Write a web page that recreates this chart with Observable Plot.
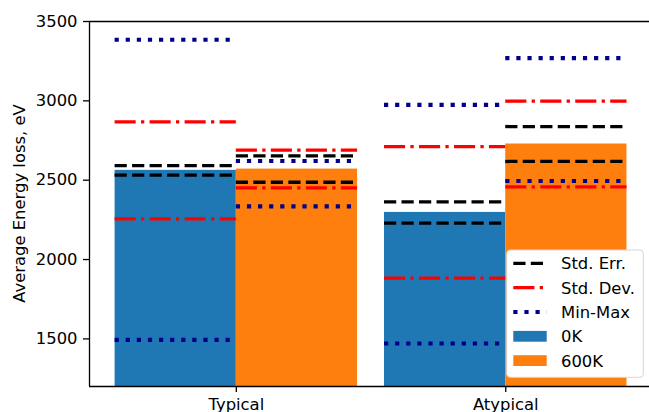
<!DOCTYPE html>
<html>
<head>
<meta charset="utf-8">
<script src="https://cdn.jsdelivr.net/npm/d3@7"></script>
<script src="https://cdn.jsdelivr.net/npm/@observablehq/plot@0.6"></script>
<style>
  html, body { margin: 0; padding: 0; background: #fff; }
  #chart { position: relative; width: 649px; height: 412px; overflow: hidden; }
</style>
</head>
<body>
<div id="chart"></div>
<script>
// Average energy loss per case, with error bands for each temperature
const categories = ["Typical", "Atypical"];
const temperatures = ["0K", "600K"];
const mean0K = [2562, 2297];
const mean600K = [2570, 2728];
const stdErr0K = [30, 67];
const stdErr600K = [83, 110];
const stdDev0K = [306, 414];
const stdDev600K = [119, 270];
const min0K = [1494, 1471];
const min600K = [2335, 2495];
const max0K = [3385, 2974];
const max600K = [2621, 3269];
const yTicks = [1500, 2000, 2500, 3000, 3500];
const lineLabels = ["Std. Err.", "Std. Dev.", "Min-Max"];
const yLabel = "Average Energy loss, eV";

const barColors = ["#1f77b4", "#ff7f0e"];
const barWidth = 0.45;
const xDomain = [-0.545, 1.5336];
const yDomain = [1200, 3500];
const font = "DejaVu Sans";
const fontSize = 16.4;

// one row per bar
const series = [
  {mean: mean0K, se: stdErr0K, sd: stdDev0K, min: min0K, max: max0K},
  {mean: mean600K, se: stdErr600K, sd: stdDev600K, min: min600K, max: max600K}
];
const rows = [];
categories.forEach((cat, i) => {
  temperatures.forEach((temp, t) => {
    const s = series[t];
    rows.push({
      cat, temp,
      x1: t === 0 ? i - barWidth : i,
      x2: t === 0 ? i : i + barWidth,
      mean: s.mean[i], se: s.se[i], sd: s.sd[i], min: s.min[i], max: s.max[i]
    });
  });
});
const seLines = rows.flatMap(r => [{...r, y: r.mean + r.se}, {...r, y: r.mean - r.se}]);
const sdLines = rows.flatMap(r => [{...r, y: r.mean + r.sd}, {...r, y: r.mean - r.sd}]);
const mmLines = rows.flatMap(r => [{...r, y: r.max}, {...r, y: r.min}]);

const lineStyles = [
  {stroke: "black", strokeWidth: 3.3, dash: "12.2,5.3"},
  {stroke: "red", strokeWidth: 3.3, dash: "21.1,5.3,3.3,5.3"},
  {stroke: "#00008b", strokeWidth: 4.2, dash: "4.2,6.9"}
];
const lineSets = [seLines, sdLines, mmLines];

const plot = Plot.plot({
  width: 649,
  height: 412,
  marginLeft: 89,
  marginRight: 0,
  marginTop: 21,
  marginBottom: 26,
  style: {fontFamily: font, fontSize: fontSize + "px", color: "black", background: "white", overflow: "hidden"},
  x: {type: "linear", domain: xDomain, label: null},
  y: {domain: yDomain, label: null},
  color: {domain: temperatures, range: barColors},
  marks: [
    Plot.rectY(rows, {x1: "x1", x2: "x2", y1: 0, y2: "mean", fill: "temp", clip: true}),
    ...lineSets.map((data, k) => Plot.ruleY(data, {
      x1: "x1", x2: "x2", y: "y",
      stroke: lineStyles[k].stroke,
      strokeWidth: lineStyles[k].strokeWidth,
      strokeDasharray: lineStyles[k].dash,
      strokeLinecap: "butt"
    })),
    Plot.ruleX([xDomain[0]], {stroke: "black", strokeWidth: 1.3}),
    Plot.ruleY(yDomain, {stroke: "black", strokeWidth: 1.3}),
    Plot.axisY({ticks: yTicks, tickSize: 6, tickPadding: 6, tickFormat: d => String(d), label: null, strokeWidth: 1.3}),
    Plot.axisX({ticks: [0, 1], tickFormat: i => categories[i], tickSize: 6, tickPadding: 6, label: null, strokeWidth: 1.3})
  ]
});
document.getElementById("chart").appendChild(plot);

const svg = d3.select(plot);

// y-axis title
svg.append("text")
  .attr("transform", "translate(25,203.5) rotate(-90)")
  .attr("text-anchor", "middle")
  .attr("font-family", font)
  .attr("font-size", fontSize)
  .attr("fill", "black")
  .text(yLabel);

// legend box in the lower right of the plot area
const lg = svg.append("g")
  .attr("font-family", font)
  .attr("font-size", fontSize)
  .attr("text-anchor", "start");
const box = {x: 506.7, y: 250, w: 136.6, h: 127.3};
lg.append("rect")
  .attr("x", box.x).attr("y", box.y).attr("width", box.w).attr("height", box.h)
  .attr("rx", 3.5)
  .attr("fill", "white")
  .attr("stroke", "#d6d6d6");
const entries = [
  ...lineLabels.map((label, k) => ({label, kind: "line", style: lineStyles[k]})),
  ...temperatures.map((label, t) => ({label, kind: "patch", color: barColors[t]}))
];
const rowY0 = 263.4, rowStep = 24.3, handleX = 513.3, handleW = 33.4, textX = 561;
entries.forEach((e, i) => {
  const cy = rowY0 + i * rowStep;
  if (e.kind === "line") {
    lg.append("line")
      .attr("x1", handleX).attr("x2", handleX + handleW)
      .attr("y1", cy).attr("y2", cy)
      .attr("stroke", e.style.stroke)
      .attr("stroke-width", e.style.strokeWidth)
      .attr("stroke-dasharray", e.style.dash);
  } else {
    lg.append("rect")
      .attr("x", handleX).attr("y", cy - 5.4)
      .attr("width", handleW).attr("height", 10.8)
      .attr("fill", e.color);
  }
  lg.append("text")
    .attr("x", textX).attr("y", cy + 6)
    .attr("fill", "black")
    .text(e.label);
});
</script>
</body>
</html>
